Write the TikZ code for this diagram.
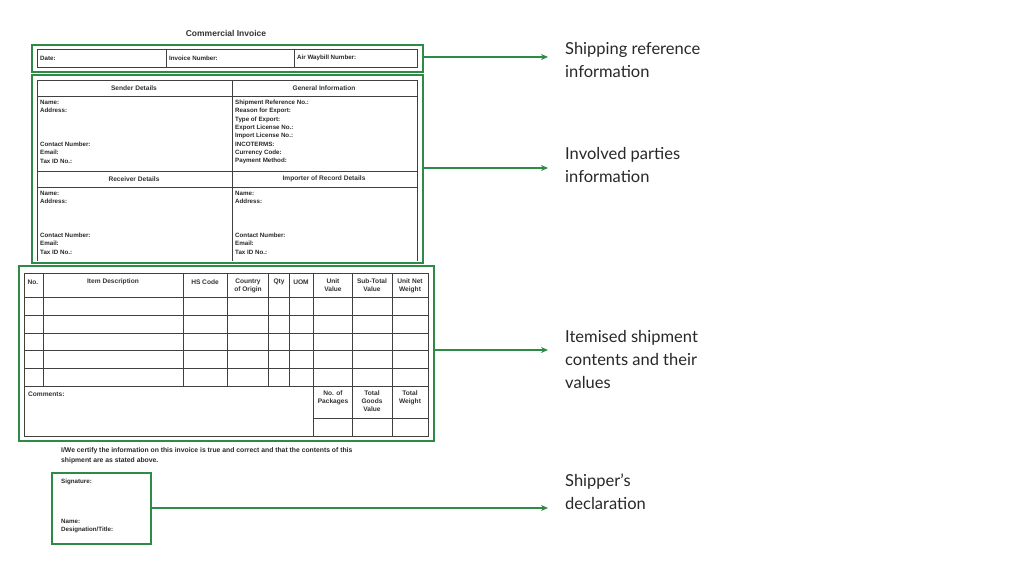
\documentclass[tikz,border=0pt]{standalone}
\usepackage{fontspec}
\setmainfont{Liberation Sans}
\newfontfamily\labfont{Lato}
\usetikzlibrary{arrows.meta}
\definecolor{gr}{RGB}{46,139,70}
\definecolor{tx}{RGB}{40,40,40}
\begin{document}
\begin{tikzpicture}[x=1pt,y=-1pt,
  gbox/.style={draw=gr,line width=1.6pt},
  tbl/.style={draw=black!75,line width=0.6pt},
  ft/.style={font=\bfseries\fontsize{6.2}{8.3}\selectfont,text=tx,inner sep=0pt},
  hd/.style={font=\fontsize{6.6}{7.8}\selectfont\bfseries,text=black!80,inner sep=0pt,align=center},
  lab/.style={font=\labfont\fontsize{16.5}{23}\selectfont,text=tx,anchor=north west,align=left,inner sep=0pt},
  arr/.style={draw=gr,line width=1.4pt,-{Stealth[length=7pt,width=6pt]}}]
\fill[white] (0,0) rectangle (1024,576);
\useasboundingbox (0,0) rectangle (1024,576);
\node[font=\bfseries\fontsize{8.5}{10}\selectfont,text=black!80] (title) at (226,33) {Commercial Invoice};
% box 1
\node[gbox,minimum width=391,minimum height=27,inner sep=0,anchor=north west] (g1) at (31,44) {};
\draw[tbl] (37,49) rectangle (417,67) (166,49)--(166,67) (294,49)--(294,67);
\node[ft,anchor=west] (d1) at (40,58) {Date:};
\node[ft,anchor=west] (d2) at (169,58) {Invoice Number:};
\node[ft,anchor=west] (d3) at (297,58) {Air Waybill Number:};
% box 2
\node[gbox,minimum width=391,minimum height=188,inner sep=0,anchor=north west] (g2) at (31,74) {};
\draw[tbl] (37,261)--(37,80)--(417,80)--(417,261) (232,80)--(232,261)
  (37,96)--(417,96) (37,171)--(417,171) (37,187)--(417,187);
\node[hd] (h1) at (134,88) {Sender Details};
\node[hd] (h2) at (324,88) {General Information};
\node[hd] (h3) at (134,179) {Receiver Details};
\node[hd] (h4) at (324,179) {Importer of Record Details};
\node[ft,anchor=north west,align=left] (s1) at (40,100) {Name:\\Address:};
\node[ft,anchor=north west,align=left] (s2) at (40,142) {Contact Number:\\Email:\\Tax ID No.:};
\node[ft,anchor=north west,align=left] (gi) at (235,100) {Shipment Reference No.:\\Reason for Export:\\Type of Export:\\Export License No.:\\Import License No.:\\INCOTERMS:\\Currency Code:\\Payment Method:};
\node[ft,anchor=north west,align=left] (r1) at (40,191) {Name:\\Address:};
\node[ft,anchor=north west,align=left] (r2) at (40,233) {Contact Number:\\Email:\\Tax ID No.:};
\node[ft,anchor=north west,align=left] (i1) at (235,191) {Name:\\Address:};
\node[ft,anchor=north west,align=left] (i2) at (235,233) {Contact Number:\\Email:\\Tax ID No.:};
% box 3
\node[gbox,minimum width=415,minimum height=175,inner sep=0,anchor=north west] (g3) at (18,265) {};
\draw[tbl] (24,273) rectangle (428,436);
\foreach \y in {297,315,333,350,368,386} \draw[tbl] (24,\y)--(428,\y);
\foreach \x in {43,183,227,268,289} \draw[tbl] (\x,273)--(\x,386);
\foreach \x in {313,352,392} \draw[tbl] (\x,273)--(\x,436);
\draw[tbl] (313,418)--(428,418);
\node[hd] (c1) at (33,282) {No.};
\node[hd] (c2) at (113,282) {Item Description};
\node[hd] (c3) at (205,282) {HS Code};
\node[hd,anchor=north] (c4) at (248,278.5) {Country\\of Origin};
\node[hd] (c5) at (279,282) {Qty};
\node[hd] (c6) at (301,282) {UOM};
\node[hd,anchor=north] (c7) at (333,278.5) {Unit\\Value};
\node[hd,anchor=north] (c8) at (372,278.5) {Sub-Total\\Value};
\node[hd,anchor=north] (c9) at (410,278.5) {Unit Net\\Weight};
\node[hd,anchor=west] (cm) at (28,394) {Comments:};
\node[hd,anchor=north] (t1) at (333,390.5) {No. of\\Packages};
\node[hd,anchor=north] (t2) at (372,390.5) {Total\\Goods\\Value};
\node[hd,anchor=north] (t3) at (410,390.5) {Total\\Weight};
% certification
\node[ft,anchor=north west,align=left,font=\bfseries\fontsize{6.8}{10.5}\selectfont] (cert) at (61,447) {I/We certify the information on this invoice is true and correct and that the contents of this\\shipment are as stated above.};
\node[gbox,minimum width=99,minimum height=71,inner sep=0,anchor=north west] (g4) at (51,472) {};
\node[ft,anchor=west] (sg) at (61,482) {Signature:};
\node[ft,anchor=north west,align=left] (nm) at (61,519) {Name:\\Designation/Title:};
% labels
\node[lab] (l1) at (565,42) {Shipping reference\\information};
\node[lab] (l2) at (565,147) {Involved parties\\information};
\node[lab] (l3) at (565,330) {Itemised shipment\\contents and their\\values};
\node[lab] (l4) at (565,474) {Shipper’s\\declaration};
\coordinate (e1) at (548,57);
\coordinate (e2) at (548,168);
\coordinate (e3) at (548,350);
\coordinate (e4) at (548,508);
\draw[arr] (g1.east |- e1) -- (e1);
\draw[arr] (g2.east |- e2) -- (e2);
\draw[arr] (g3.east |- e3) -- (e3);
\draw[arr] (g4.east |- e4) -- (e4);
\end{tikzpicture}
\end{document}
